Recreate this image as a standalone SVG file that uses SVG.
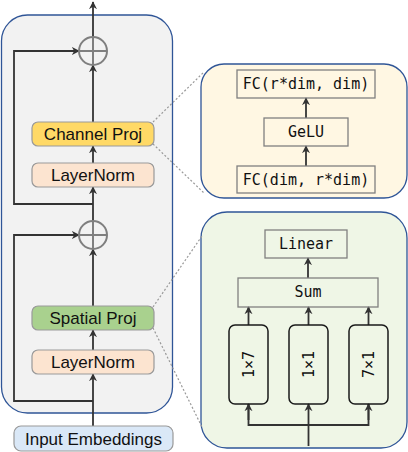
<svg xmlns="http://www.w3.org/2000/svg" width="408" height="452" viewBox="0 0 408 452">
<style>
.sans{font-family:"Liberation Sans",Arial,sans-serif;font-size:17px;fill:#111;text-anchor:middle}
.mono{font-family:"DejaVu Sans Mono",monospace;font-size:15px;fill:#111;text-anchor:middle}
.cont{stroke:#2f5597;stroke-width:1.3}
.node{stroke:#999;stroke-width:1.2}
.inner{fill:none;stroke:#808080;stroke-width:1.3}
.conv{fill:none;stroke:#1a1a1a;stroke-width:1.5}
.ln{fill:none;stroke:#333;stroke-width:1.8}
.dash{fill:none;stroke:#999;stroke-width:1.2;stroke-dasharray:2,2}
.plus{fill:none;stroke:#7f7f7f;stroke-width:2}
</style>
<defs>
<marker id="ah" viewBox="0 0 10 10" refX="9" refY="5" markerWidth="8" markerHeight="9" markerUnits="userSpaceOnUse" orient="auto">
<path d="M0,0 L10,5 L0,10 L3,5 z" fill="#333"/>
</marker>
</defs>
<g id="containers">
<rect class="cont" x="1.5" y="15" width="171" height="398" rx="26" fill="#f2f2f2"/>
<rect class="cont" x="201" y="64" width="206" height="134" rx="23" fill="#fff7e3"/>
<rect class="cont" x="201" y="212" width="206" height="236" rx="26" fill="#eff6e6"/>
</g>
<g id="connectors">
<line class="ln" x1="93" y1="37" x2="93" y2="2" marker-end="url(#ah)"/>
<polyline class="ln" points="93,204 14,204 14,51 79,51" marker-end="url(#ah)"/>
<line class="ln" x1="93" y1="122" x2="93" y2="65" marker-end="url(#ah)"/>
<line class="ln" x1="93" y1="163" x2="93" y2="146" marker-end="url(#ah)"/>
<line class="ln" x1="93" y1="221" x2="93" y2="187" marker-end="url(#ah)"/>
<polyline class="ln" points="93,401 14,401 14,235 79,235" marker-end="url(#ah)"/>
<line class="ln" x1="93" y1="306" x2="93" y2="249" marker-end="url(#ah)"/>
<line class="ln" x1="93" y1="350" x2="93" y2="330" marker-end="url(#ah)"/>
<line class="ln" x1="93" y1="426" x2="93" y2="374" marker-end="url(#ah)"/>
<line class="ln" x1="306" y1="118" x2="306" y2="98" marker-end="url(#ah)"/>
<line class="ln" x1="306" y1="166" x2="306" y2="146" marker-end="url(#ah)"/>
<line class="ln" x1="308" y1="278" x2="308" y2="258" marker-end="url(#ah)"/>
<line class="ln" x1="248.5" y1="325" x2="248.5" y2="307" marker-end="url(#ah)"/>
<line class="ln" x1="308.5" y1="325" x2="308.5" y2="307" marker-end="url(#ah)"/>
<line class="ln" x1="368.5" y1="325" x2="368.5" y2="307" marker-end="url(#ah)"/>
<line class="ln" x1="308.5" y1="446" x2="308.5" y2="404" marker-end="url(#ah)"/>
<polyline class="ln" points="248.5,404 248.5,425 368.5,425 368.5,404"/>
<line class="ln" x1="248.5" y1="420" x2="248.5" y2="404" marker-end="url(#ah)"/>
<line class="ln" x1="368.5" y1="420" x2="368.5" y2="404" marker-end="url(#ah)"/>
<line class="dash" x1="153" y1="122" x2="204" y2="72"/>
<line class="dash" x1="153" y1="144" x2="204" y2="193"/>
<line class="dash" x1="153" y1="307" x2="202" y2="236"/>
<line class="dash" x1="153" y1="328" x2="202" y2="427"/>
</g>
<g id="add-top">
<circle class="plus" cx="93" cy="51" r="14"/>
<line class="plus" x1="79" y1="51" x2="107" y2="51"/>
<line class="plus" x1="93" y1="37" x2="93" y2="65"/>
</g>
<g id="add-bottom">
<circle class="plus" cx="93" cy="235" r="14"/>
<line class="plus" x1="79" y1="235" x2="107" y2="235"/>
<line class="plus" x1="93" y1="221" x2="93" y2="249"/>
</g>
<g id="channel-proj">
<rect class="node" x="32" y="122" width="122" height="24" rx="6" fill="#ffd966" stroke="#b9a45a"/>
<text class="sans" x="93" y="140">Channel Proj</text>
</g>
<g id="layernorm-top">
<rect class="node" x="32" y="163" width="122" height="24" rx="6" fill="#fce4d0"/>
<text class="sans" x="93" y="181">LayerNorm</text>
</g>
<g id="spatial-proj">
<rect class="node" x="32" y="306" width="122" height="24" rx="6" fill="#a9d18e"/>
<text class="sans" x="93" y="324">Spatial Proj</text>
</g>
<g id="layernorm-bottom">
<rect class="node" x="32" y="350" width="122" height="24" rx="6" fill="#fce4d0"/>
<text class="sans" x="93" y="368">LayerNorm</text>
</g>
<g id="input-embeddings">
<rect class="node" x="14" y="426" width="159" height="25" rx="7" fill="#dae8f7"/>
<text class="sans" x="93.5" y="444.5">Input Embeddings</text>
</g>
<g id="fc-out">
<rect class="inner" x="237" y="70" width="138" height="28"/>
<text class="mono" x="306" y="89">FC(r*dim, dim)</text>
</g>
<g id="gelu">
<rect class="inner" x="264" y="118" width="84" height="28"/>
<text class="mono" x="306" y="137">GeLU</text>
</g>
<g id="fc-in">
<rect class="inner" x="237" y="166" width="138" height="27"/>
<text class="mono" x="306" y="185">FC(dim, r*dim)</text>
</g>
<g id="linear">
<rect class="inner" x="265" y="230" width="82" height="28"/>
<text class="mono" x="306" y="249">Linear</text>
</g>
<g id="sum">
<rect class="inner" x="238" y="278" width="140" height="29"/>
<text class="mono" x="308" y="297">Sum</text>
</g>
<g id="conv-1x7">
<rect class="conv" x="229" y="325" width="39" height="79" rx="6"/>
<text class="mono" transform="translate(248.5,364.5) rotate(-90)" x="0" y="5">1×7</text>
</g>
<g id="conv-1x1">
<rect class="conv" x="289" y="325" width="39" height="79" rx="6"/>
<text class="mono" transform="translate(308.5,364.5) rotate(-90)" x="0" y="5">1×1</text>
</g>
<g id="conv-7x1">
<rect class="conv" x="349" y="325" width="39" height="79" rx="6"/>
<text class="mono" transform="translate(368.5,364.5) rotate(-90)" x="0" y="5">7×1</text>
</g>
</svg>
